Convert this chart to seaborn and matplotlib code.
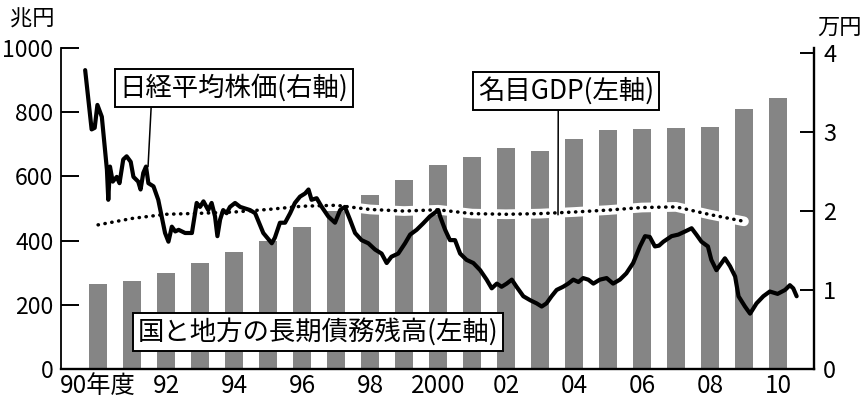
import matplotlib
matplotlib.use('Agg')
import matplotlib.pyplot as plt
import seaborn as sns

# ---- data ----
years = list(range(1990, 2011))
debt = [265, 274, 299, 330, 364, 400, 443, 492, 542, 589, 636,
        661, 687, 679, 718, 745, 747, 752, 755, 809, 845]

gdp_years = list(range(1990, 2010))
gdp = [449, 469, 482, 485, 489, 497, 507, 510, 497, 492,
       496, 484, 482, 484, 489, 495, 503, 505, 481, 460]

nikkei_t = [1989.62, 1989.81, 1989.90, 1989.98, 1990.11, 1990.26, 1990.30, 1990.35,
            1990.43, 1990.55, 1990.63, 1990.74, 1990.84, 1990.96, 1991.04, 1991.18,
            1991.25, 1991.33, 1991.41, 1991.48, 1991.63, 1991.77, 1991.87, 1991.97,
            1992.07, 1992.17, 1992.27, 1992.37, 1992.56, 1992.76, 1992.90, 1993.00,
            1993.10, 1993.24, 1993.34, 1993.44, 1993.51, 1993.59, 1993.68, 1993.78,
            1993.88, 1994.03, 1994.18, 1994.32, 1994.47, 1994.62, 1994.86, 1995.11,
            1995.20, 1995.35, 1995.50, 1995.65, 1995.79, 1995.94, 1996.09, 1996.19,
            1996.28, 1996.43, 1996.58, 1996.77, 1996.97, 1997.12, 1997.26, 1997.41,
            1997.56, 1997.75, 1997.95, 1998.15, 1998.34, 1998.49, 1998.63, 1998.83,
            1999.03, 1999.18, 1999.37, 1999.56, 1999.76, 2000.01, 2000.06, 2000.21,
            2000.35, 2000.50, 2000.65, 2000.84, 2001.04, 2001.24, 2001.43, 2001.58,
            2001.73, 2001.87, 2002.02, 2002.17, 2002.31, 2002.51, 2002.71, 2002.90,
            2003.05, 2003.19, 2003.34, 2003.49, 2003.68, 2003.83, 2003.98, 2004.13,
            2004.27, 2004.42, 2004.57, 2004.76, 2004.96, 2005.15, 2005.35, 2005.54,
            2005.74, 2005.94, 2006.09, 2006.23, 2006.38, 2006.50, 2006.63, 2006.87,
            2007.07, 2007.27, 2007.46, 2007.60, 2007.75, 2007.94, 2008.04, 2008.19,
            2008.44, 2008.59, 2008.74, 2008.84, 2009.03, 2009.18, 2009.37, 2009.57,
            2009.76, 2009.99, 2010.21, 2010.35, 2010.45, 2010.55]
nikkei_v = [3.78, 3.03, 3.05, 3.34, 3.19, 2.52, 2.14, 2.56,
            2.37, 2.43, 2.35, 2.65, 2.69, 2.62, 2.43, 2.37,
            2.27, 2.48, 2.56, 2.35, 2.31, 2.14, 1.93, 1.72,
            1.61, 1.80, 1.74, 1.76, 1.72, 1.72, 2.10, 2.05,
            2.12, 2.01, 2.10, 1.93, 1.68, 1.89, 2.01, 1.97,
            2.05, 2.10, 2.05, 2.03, 2.01, 1.97, 1.72, 1.59,
            1.66, 1.85, 1.85, 1.97, 2.10, 2.18, 2.22, 2.27,
            2.14, 2.16, 2.05, 1.93, 1.85, 2.01, 2.05, 1.89,
            1.72, 1.63, 1.59, 1.51, 1.46, 1.34, 1.42, 1.46,
            1.59, 1.70, 1.76, 1.84, 1.93, 2.01, 1.93, 1.76,
            1.63, 1.63, 1.46, 1.38, 1.34, 1.25, 1.13, 1.02,
            1.08, 1.04, 1.08, 1.13, 1.04, 0.92, 0.87, 0.83,
            0.79, 0.83, 0.92, 1.00, 1.04, 1.08, 1.13, 1.10,
            1.15, 1.13, 1.08, 1.13, 1.15, 1.08, 1.13, 1.21,
            1.34, 1.55, 1.68, 1.67, 1.55, 1.56, 1.61, 1.68,
            1.70, 1.74, 1.78, 1.70, 1.61, 1.55, 1.38, 1.25,
            1.40, 1.30, 1.17, 0.92, 0.79, 0.70, 0.83, 0.92,
            0.98, 0.95, 1.00, 1.06, 1.02, 0.92]

xtick_pos = [1990, 1992, 1994, 1996, 1998, 2000, 2002, 2004, 2006, 2008, 2010]
xtick_labels = ['90年度', '92', '94', '96', '98', '2000', '02', '04', '06', '08', '10']
left_ticks = [0, 200, 400, 600, 800, 1000]
right_ticks = [0, 1, 2, 3, 4]

label_nikkei = '日経平均株価(右軸)'
label_gdp = '名目GDP(左軸)'
label_debt = '国と地方の長期債務残高(左軸)'
unit_left = '兆円'
unit_right = '万円'

# ---- style ----
sns.set_theme(style='white')
plt.rcParams['font.family'] = ['Noto Sans CJK JP', 'DejaVu Sans']
plt.rcParams['text.color'] = 'black'
plt.rcParams['xtick.color'] = 'black'
plt.rcParams['ytick.color'] = 'black'
plt.rcParams['axes.edgecolor'] = 'black'

fig = plt.figure(figsize=(8.62, 4.08), dpi=100)
ax = fig.add_axes([0.0708, 0.0956, 0.8735, 0.7868])

sns.barplot(x=years, y=debt, native_scale=True, width=0.55, color='#858585',
            saturation=1, errorbar=None, edgecolor='none', ax=ax, zorder=1)

# white halo then dotted GDP line
sns.lineplot(x=gdp_years, y=gdp, ax=ax, color='white', lw=7, estimator=None,
             solid_capstyle='round', zorder=3)
sns.lineplot(x=gdp_years, y=gdp, ax=ax, color='black', lw=2.5, estimator=None,
             linestyle=(0, (0.1, 1.9)), dash_capstyle='round', zorder=4)

ax2 = ax.twinx()
sns.lineplot(x=nikkei_t, y=nikkei_v, ax=ax2, color='black', lw=3.0,
             estimator=None, sort=False, zorder=5)

ax.set_xlim(1988.91, 2011.06)
ax.set_ylim(0, 1000)
ax2.set_ylim(0, 4.06)

ax.set_xticks(xtick_pos)
ax.set_xticklabels(xtick_labels)
ax.set_yticks(left_ticks)
ax.set_yticklabels([str(t) for t in left_ticks])
ax2.set_yticks(right_ticks)
ax2.set_yticklabels([str(t) for t in right_ticks])
ax.set_xlabel('')
ax.set_ylabel('')
ax2.set_ylabel('')

for s in ['top', 'right']:
    ax.spines[s].set_visible(False)
for s in ['top', 'left', 'bottom']:
    ax2.spines[s].set_visible(False)
ax.spines['left'].set_linewidth(1.3)
ax.spines['bottom'].set_linewidth(1.7)
ax2.spines['right'].set_linewidth(1.7)
for sp in list(ax.spines.values()) + list(ax2.spines.values()):
    sp.set_color('black')

ax.tick_params(axis='y', left=True, direction='in', length=13, width=1.4,
               labelsize=16.5, pad=5.5, colors='black')
ax.tick_params(axis='x', bottom=True, length=0, labelsize=17.5, pad=3, colors='black')
ax2.tick_params(axis='y', right=True, direction='in', length=10, width=1.4,
                labelsize=17, pad=6.5, colors='black')

box = dict(boxstyle='square,pad=0.18', fc='white', ec='black', lw=1.4)

ax2.annotate(label_nikkei, xy=(1991.47, 2.56), xycoords='data',
             xytext=(234, 320), textcoords='figure pixels',
             ha='center', va='center', fontsize=19, bbox=box, zorder=10,
             arrowprops=dict(arrowstyle='-', color='black', lw=1.1,
                             relpos=(0.139, 0), shrinkA=0, shrinkB=0))
ax2.annotate(label_gdp, xy=(2003.53, 1.95), xycoords='data',
             xytext=(566, 317), textcoords='figure pixels',
             ha='center', va='center', fontsize=19, bbox=box, zorder=10,
             arrowprops=dict(arrowstyle='-', color='black', lw=1.1,
                             relpos=(0.456, 0), shrinkA=0, shrinkB=0))
ax2.annotate(label_debt, xy=(318, 76), xycoords='figure pixels',
             ha='center', va='center', fontsize=19, bbox=box, zorder=10,
             annotation_clip=False)

fig.text(32 / 862, 389 / 408, unit_left, fontsize=16, ha='center', va='center')
fig.text(840 / 862, 381 / 408, unit_right, fontsize=16, ha='center', va='center')

fig.savefig('out.png', dpi=100)
